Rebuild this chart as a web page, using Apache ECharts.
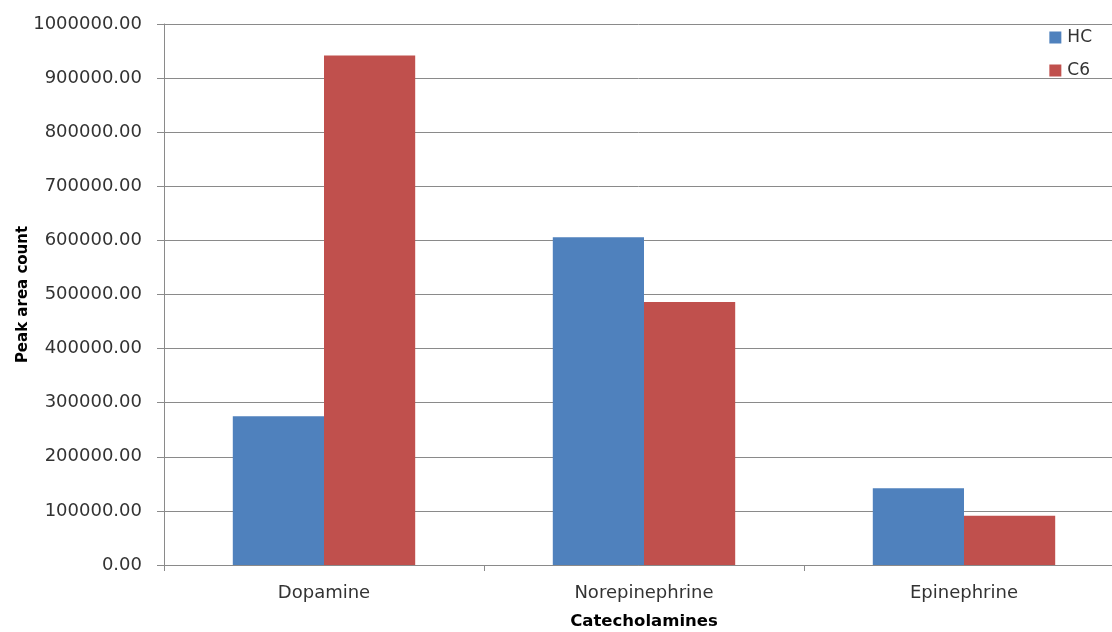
<!DOCTYPE html>
<html>
<head>
<meta charset="utf-8">
<script src="https://cdn.jsdelivr.net/npm/echarts@6/dist/echarts.min.js"></script>
<style>
  html, body { margin: 0; padding: 0; background: #fff; }
  #chart { width: 1112px; height: 632px; }
</style>
</head>
<body>
<div id="chart"></div>
<script>
// Catecholamine peak areas, HC vs C6
var categories = ['Dopamine', 'Norepinephrine', 'Epinephrine'];
var hcValues = [275000, 606000, 142000];
var c6Values = [942000, 486000, 91000];
var seriesNames = ['HC', 'C6'];

var FONT = 'DejaVu Sans';
var chart = echarts.init(document.getElementById('chart'), null, { renderer: 'canvas' });

chart.setOption({
  backgroundColor: '#ffffff',
  animation: false,
  legend: {
    orient: 'vertical',
    right: 15,
    top: 24,
    itemWidth: 12,
    itemHeight: 12,
    itemGap: 16,
    icon: 'rect',
    textStyle: { fontFamily: FONT, fontSize: 17, color: '#333', padding: [0, 0, 0, 1] },
    data: seriesNames
  },
  grid: {
    left: 164, top: 24, width: 960, height: 541,
    containLabel: false,
    outerBoundsMode: 'none'
  },
  xAxis: {
    type: 'category',
    data: categories,
    name: 'Catecholamines',
    nameLocation: 'middle',
    nameGap: 48,
    nameTextStyle: { fontFamily: FONT, fontSize: 16.5, fontWeight: 'bold', color: '#000' },
    axisLine: { lineStyle: { color: '#8a8a8a', width: 1 } },
    axisTick: { show: true, length: 6, lineStyle: { color: '#8a8a8a' } },
    axisLabel: { fontFamily: FONT, fontSize: 18, color: '#333', margin: 19 }
  },
  yAxis: {
    type: 'value',
    min: 0,
    max: 1000000,
    interval: 100000,
    name: 'Peak area count',
    nameLocation: 'middle',
    nameGap: 133,
    nameMoveOverlap: false,
    nameTextStyle: { fontFamily: FONT, fontSize: 15, fontWeight: 'bold', color: '#000' },
    axisLine: { show: true, lineStyle: { color: '#8a8a8a', width: 1 } },
    axisTick: { show: true, length: 7, lineStyle: { color: '#8a8a8a' } },
    splitLine: { lineStyle: { color: '#8a8a8a', width: 1 } },
    axisLabel: {
      fontFamily: FONT, fontSize: 18, color: '#333', margin: 22,
      formatter: function (v) { return v.toFixed(2); }
    }
  },
  series: [
    {
      name: seriesNames[0],
      type: 'bar',
      data: hcValues,
      barGap: '0%',
      barCategoryGap: '43%',
      itemStyle: { color: '#4F81BD' }
    },
    {
      name: seriesNames[1],
      type: 'bar',
      data: c6Values,
      barGap: '0%',
      barCategoryGap: '43%',
      itemStyle: { color: '#C0504D' }
    }
  ]
});
</script>
</body>
</html>
